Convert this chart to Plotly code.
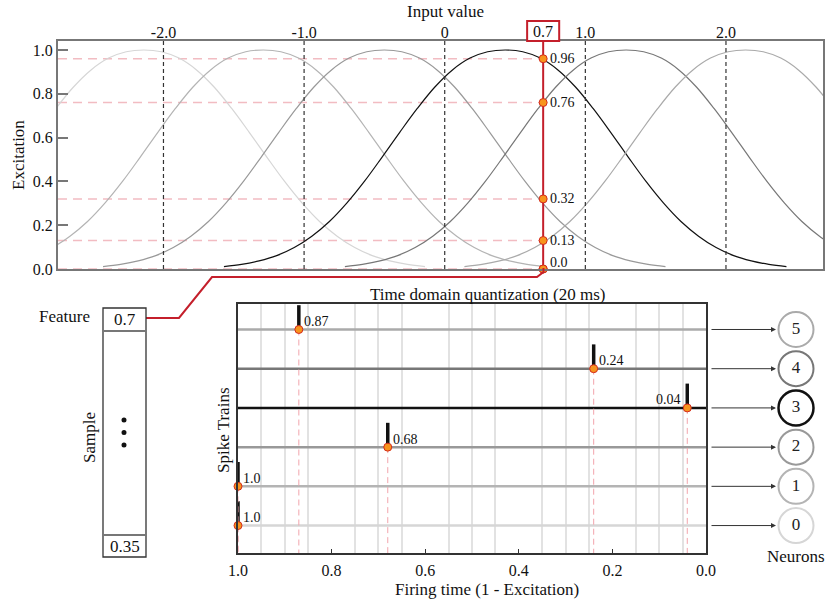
import plotly.graph_objects as go

W, H = 825, 605
FONT = "Liberation Serif"

# ---------------- data ----------------
neurons = [0, 1, 2, 3, 4, 5]
centers = [-2.14, -1.29, -0.43, 0.43, 1.29, 2.14]          # receptive field centres
profile_offsets = [0, 0.125, 0.25, 0.375, 0.5, 0.625, 0.75, 0.875, 1.0,
                   1.125, 1.25, 1.375, 1.5, 1.625, 1.75, 1.875, 2.0]
profile_values = [1.0, 0.992, 0.963, 0.909, 0.831, 0.733, 0.624, 0.511, 0.401,
                  0.302, 0.217, 0.150, 0.098, 0.061, 0.037, 0.021, 0.011]
neuron_colors = ['#d6d6d6', '#b4b4b4', '#999999', '#111111', '#777777', '#aaaaaa']
input_value = 0.7
excitations = [0.0, 0.0, 0.32, 0.96, 0.76, 0.13]
excitation_levels = [0.96, 0.76, 0.32, 0.13, 0.0]
excitation_labels = ['0.96', '0.76', '0.32', '0.13', '0.0']
firing_times = [1.0, 1.0, 0.68, 0.04, 0.24, 0.87]
firing_labels = ['1.0', '1.0', '0.68', '0.04', '0.24', '0.87']
top_tickvals = [-2, -1, 0, 1, 2]
top_ticktext = ['-2.0', '-1.0', '0', '1.0', '2.0']
exc_ticks = [0.0, 0.2, 0.4, 0.6, 0.8, 1.0]
sample_values = ['0.7', '0.35']

# ---------------- helpers (pixel -> paper) ----------------
def X(px):
    return px / W

def Y(py):
    return 1 - py / H

RED = '#c41f2b'
ORANGE = '#f7941d'
XR = [-2.75, 2.69]
YR = [0, 1.041]
Y2R = [-0.7, 5.65]

fig = go.Figure()

# ---------------- top panel: receptive fields ----------------
for i, c in enumerate(centers):
    xs = [c - o for o in reversed(profile_offsets)] + [c + o for o in profile_offsets[1:]]
    ys = list(reversed(profile_values)) + profile_values[1:]
    fig.add_trace(go.Scatter(x=xs, y=ys, mode='lines', line=dict(color=neuron_colors[i], width=1.2,
                                                                   shape='spline', smoothing=1.0),
                             hoverinfo='skip', showlegend=False, xaxis='x', yaxis='y'))

# red input line
fig.add_trace(go.Scatter(x=[input_value, input_value], y=[0, YR[1]], mode='lines',
                         line=dict(color=RED, width=2), showlegend=False, xaxis='x', yaxis='y',
                         cliponaxis=False))
# intersection dots
fig.add_trace(go.Scatter(x=[input_value] * len(excitations), y=excitations, mode='markers',
                         marker=dict(size=8, color=ORANGE, line=dict(color='#d42a1e', width=1)),
                         cliponaxis=False, showlegend=False, xaxis='x', yaxis='y'))

# ---------------- bottom panel: spike trains ----------------
for i in neurons:
    fig.add_trace(go.Scatter(x=[1.0, 0.0], y=[i, i], mode='lines',
                             line=dict(color=neuron_colors[i], width=2.5),
                             showlegend=False, xaxis='x2', yaxis='y2'))
for i in neurons:
    t = firing_times[i]
    fig.add_trace(go.Scatter(x=[t, t], y=[i, Y2R[0]], mode='lines',
                             line=dict(color='#f2a4ac', width=1, dash='6px,4px'),
                             showlegend=False, xaxis='x2', yaxis='y2'))
    fig.add_trace(go.Scatter(x=[t, t], y=[i, i + 0.62], mode='lines',
                             line=dict(color='#111111', width=3.5),
                             cliponaxis=False, showlegend=False, xaxis='x2', yaxis='y2'))
fig.add_trace(go.Scatter(x=firing_times, y=neurons, mode='markers',
                         marker=dict(size=8, color=ORANGE, line=dict(color='#d42a1e', width=1)),
                         cliponaxis=False, showlegend=False, xaxis='x2', yaxis='y2'))

# neuron circles
fig.add_trace(go.Scatter(x=[0.5] * len(neurons), y=neurons, mode='markers+text',
                         text=[str(n) for n in neurons], textposition='middle center',
                         textfont=dict(family=FONT, size=17, color='#222'),
                         marker=dict(size=35, color='white',
                                     line=dict(color=neuron_colors,
                                               width=[2, 2, 2, 2.5, 2, 2])),
                         cliponaxis=False, showlegend=False, xaxis='x3', yaxis='y3'))

annotations = []
shapes = []

# pink dashed horizontal guides
for v in excitation_levels:
    shapes.append(dict(type='line', xref='x', yref='y', x0=XR[0], x1=input_value, y0=v, y1=v,
                       line=dict(color='#f2bcc2', width=1.5, dash='9px,6px'), layer='below'))
# black dashed verticals
for v in top_tickvals:
    shapes.append(dict(type='line', xref='x', yref='y domain', x0=v, x1=v, y0=0, y1=1,
                       line=dict(color='#333333', width=1.2, dash='4px,3px')))

# excitation labels
for v, lab in zip(excitation_levels, excitation_labels):
    annotations.append(dict(x=input_value, y=v, xref='x', yref='y', text=lab, showarrow=False,
                            xanchor='left', yanchor='middle', xshift=5, yshift=7 if v == 0 else 0,
                            font=dict(family=FONT, size=14, color='#111')))

# boxed input value on top axis
box_half = 0.114
shapes.append(dict(type='rect', xref='x', yref='paper', x0=input_value - box_half,
                   x1=input_value + box_half, y0=Y(41), y1=Y(21),
                   line=dict(color=RED, width=2), fillcolor='white'))
annotations.append(dict(x=input_value, y=Y(31.5), xref='x', yref='paper', text='0.7', showarrow=False,
                        xanchor='center', yanchor='middle', font=dict(family=FONT, size=16, color='#111')))

# spike labels
for i in neurons:
    t = firing_times[i]
    left = t < 0.1
    annotations.append(dict(x=t, y=i, xref='x2', yref='y2', text=firing_labels[i], showarrow=False,
                            xanchor='right' if left else 'left', yanchor='middle',
                            xshift=-4 if left else 3, yshift=8,
                            font=dict(family=FONT, size=14, color='#111')))

# arrows to neurons
for i in neurons:
    annotations.append(dict(x=X(776), y=i, xref='paper', yref='y2', ax=-66, ay=0,
                            axref='pixel', ayref='pixel', text='', showarrow=True,
                            arrowhead=2, arrowsize=1, arrowwidth=1, arrowcolor='#333333',
                            standoff=0, startstandoff=0))

# connector from feature box to input line
path = 'M {} {} L {} {} L {} {} L {} {} L {} {} L {} {}'.format(
    X(146), Y(318), X(179), Y(318), X(212), Y(277), X(537), Y(277), X(543.5), Y(272), X(543.5), Y(268))
shapes.append(dict(type='path', xref='paper', yref='paper', path=path,
                   line=dict(color=RED, width=2)))

# sample box
shapes.append(dict(type='rect', xref='paper', yref='paper', x0=X(103), x1=X(146), y0=Y(557), y1=Y(308),
                   line=dict(color='#333333', width=1.3)))
for py in [331, 535]:
    shapes.append(dict(type='line', xref='paper', yref='paper', x0=X(103), x1=X(146), y0=Y(py), y1=Y(py),
                       line=dict(color='#777777', width=2)))
for py in [420, 432.5, 445]:
    shapes.append(dict(type='circle', xref='paper', yref='paper', x0=X(121.5), x1=X(126.5),
                       y0=Y(py + 2.5), y1=Y(py - 2.5), line=dict(width=0), fillcolor='#111'))

# titles / labels
def label(text, px, py, size=17, angle=0, xanchor='center'):
    annotations.append(dict(x=X(px), y=Y(py), xref='paper', yref='paper', text=text, showarrow=False,
                            textangle=angle, xanchor=xanchor, yanchor='middle',
                            font=dict(family=FONT, size=size, color='#111')))

label(sample_values[0], 124.5, 319)
label(sample_values[1], 124.5, 546)
label('Input value', 445, 12)
label('Excitation', 18, 155, angle=-90)
label('Time domain quantization (20 ms)', 487, 295)
label('Firing time (1 - Excitation)', 487, 589)
label('Spike Trains', 223, 430, angle=-90)
label('Feature', 92, 316, xanchor='right')
label('Sample', 89, 438, angle=-90)
label('Neurons', 796, 556)

tickfont = dict(family=FONT, size=16, color='#111')

fig.update_layout(
    width=W, height=H, margin=dict(l=0, r=0, t=0, b=0, autoexpand=False),
    paper_bgcolor='white', plot_bgcolor='white', showlegend=False, hovermode=False,
    font=dict(family=FONT, size=16, color='#111'),
    xaxis=dict(domain=[X(58), X(823)], range=XR, side='top', anchor='y', automargin=False,
               tickmode='array', tickvals=top_tickvals, ticktext=top_ticktext, ticks='',
               ticklabelstandoff=-5,
               tickfont=tickfont, showgrid=False, zeroline=False,
               showline=True, mirror=True, linecolor='#777777', linewidth=2),
    yaxis=dict(domain=[Y(269), Y(41)], range=YR, anchor='x', automargin=False,
               tickmode='array', tickvals=exc_ticks, tickformat='.1f', ticks='inside',
               ticklen=10, tickwidth=1.5, tickcolor='#777777', tickfont=tickfont,
               showgrid=False, zeroline=False,
               showline=True, mirror=True, linecolor='#777777', linewidth=2),
    xaxis2=dict(domain=[X(238), X(706)], range=[1.0, 0.0], anchor='y2', automargin=False,
                tickmode='linear', tick0=0, dtick=0.2, tickformat='.1f', ticks='inside',
                ticklen=4, tickwidth=1.2, tickcolor='#333333', tickfont=tickfont,
                ticklabelstandoff=2,
                showgrid=False, zeroline=False,
                minor=dict(tickmode='linear', tick0=0, dtick=0.05, showgrid=True,
                           gridcolor='#e2e2e2', gridwidth=1.5, ticks=''),
                showline=True, mirror=True, linecolor='#333333', linewidth=1.5),
    yaxis2=dict(domain=[Y(553), Y(304)], range=Y2R, anchor='x2', showticklabels=False,
                ticks='', showgrid=False, zeroline=False, automargin=False,
                showline=True, mirror=True, linecolor='#333333', linewidth=1.5),
    xaxis3=dict(domain=[X(770), X(822)], range=[0, 1], anchor='y3', visible=False, automargin=False),
    yaxis3=dict(domain=[Y(553), Y(304)], range=Y2R, anchor='x3', visible=False, automargin=False),
    shapes=shapes, annotations=annotations,
)

# remove the browser's default page margin so the figure fills the window exactly
fig.write_html('out.html', config={'displayModeBar': False},
               post_script="document.body.style.margin='0';document.body.style.overflow='hidden';")
